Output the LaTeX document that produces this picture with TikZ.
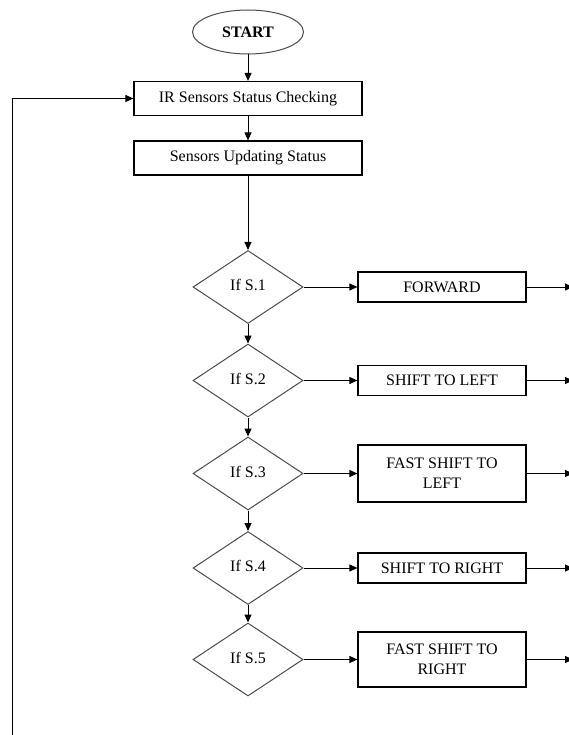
\documentclass[tikz,border=0pt]{standalone}
\usepackage{fontspec}
\setmainfont{Liberation Serif}
\usetikzlibrary{positioning}
\usetikzlibrary{arrows.meta,shapes.geometric}
\tikzset{
    flow/.style={>={Triangle[length=8pt,width=7pt]},line width=1pt,
                 font=\fontsize{16}{20}\selectfont},
    terminal/.style={ellipse,draw=gray!60!black,minimum width=111pt,minimum height=44pt,
                     font=\fontsize{16}{20}\selectfont\bfseries},
    process/.style={rectangle,draw,line width=1.2pt,minimum width=228pt,minimum height=34pt},
    test/.style={diamond,draw=gray!60!black,minimum width=110pt,minimum height=73pt,inner sep=0pt},
    action/.style={rectangle,draw,line width=1.2pt,minimum width=168pt,minimum height=30pt,align=center},
    }

\begin{document}
\begin{tikzpicture}[flow,x=1pt,y=-1pt]
            \useasboundingbox (0,0) rectangle (569,735);
            \clip (0,0) rectangle (569,735);

            \node[terminal] (start) at (248,32) {START};
            \node[process] (ir) [below of=start, node distance=66.5pt] {IR Sensors Status Checking};
            \node[process] (sens) [below of=ir, node distance=59.5pt] {Sensors Updating Status};

            \node[test] (d1) [below of=sens, node distance=129pt] {\raisebox{4pt}{If S.1}};
            \node[test] (d2) [below of=d1, node distance=93.5pt] {\raisebox{4pt}{If S.2}};
            \node[test] (d3) [below of=d2, node distance=93pt] {\raisebox{4pt}{If S.3}};
            \node[test] (d4) [below of=d3, node distance=94.5pt] {\raisebox{4pt}{If S.4}};
            \node[test] (d5) [below of=d4, node distance=91.5pt] {\raisebox{4pt}{If S.5}};

            \node[action] (b1) [right of=d1, node distance=194pt] {FORWARD};
            \node[action] (b2) [right of=d2, node distance=194pt] {SHIFT TO LEFT};
            \node[action, minimum height=57pt] (b3) [right of=d3, node distance=194pt] {FAST SHIFT TO\\LEFT};
            \node[action] (b4) [right of=d4, node distance=194pt] {SHIFT TO RIGHT};
            \node[action, minimum height=55pt] (b5) [right of=d5, node distance=194pt] {FAST SHIFT TO\\RIGHT};

            \coordinate (loop) at (12,735);

            \draw[->] (start) -- (ir);
            \draw[->] (ir) -- (sens);
            \draw[->] (sens) -- (d1);
            \draw[->] (d1) -- (d2);
            \draw[->] (d2) -- (d3);
            \draw[->] (d3) -- (d4);
            \draw[->] (d4) -- (d5);

            \foreach \i in {1,...,5} {
                \coordinate[right of=b\i, node distance=131pt] (e\i);
                \draw[->] (d\i) -- (b\i);
                \draw[->] (b\i) -- (e\i);
            }

            \draw[->] (loop) |- (ir);
        \end{tikzpicture}
\end{document}
